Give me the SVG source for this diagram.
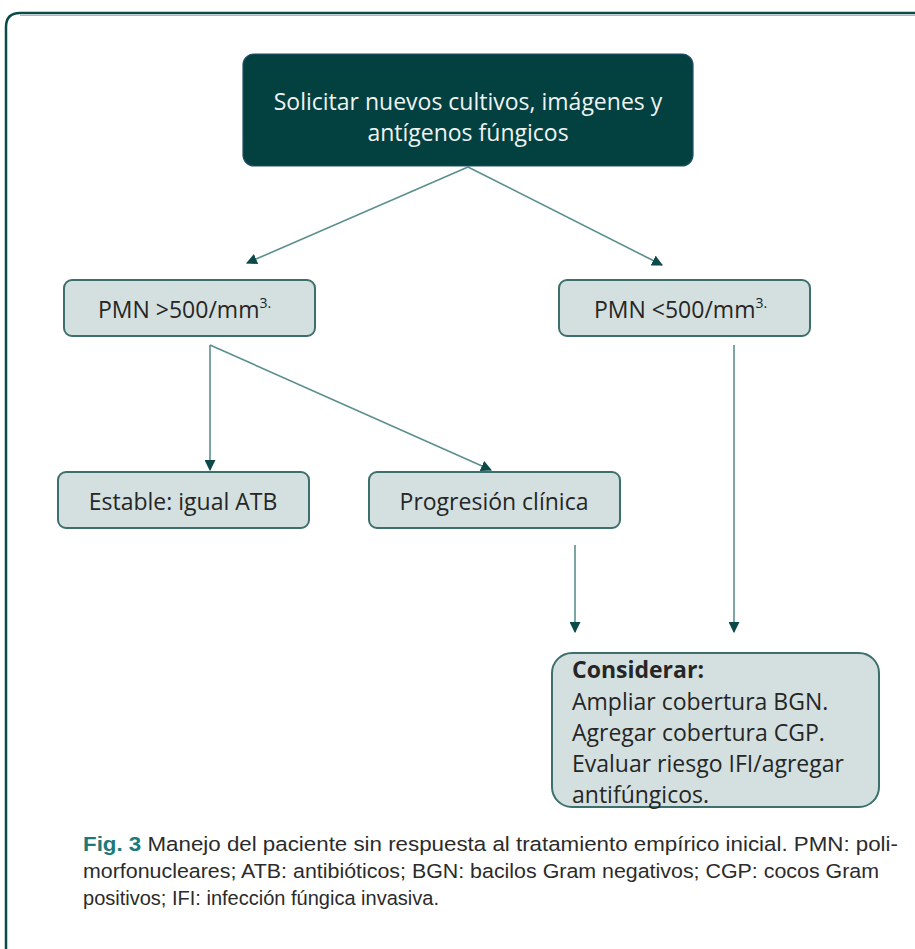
<svg xmlns="http://www.w3.org/2000/svg" width="915" height="949" viewBox="0 0 915 949">
<defs>
<style>
.box{fill:#d3e0df;stroke:#3d6f6c;stroke-width:2}
.lbl{font-family:"Open Sans","Liberation Sans",sans-serif;font-size:23px;fill:#262626}
.conn{stroke:#5b8f8c;stroke-width:1.6;fill:none;marker-end:url(#ah)}
.cap{font-family:"Liberation Sans",Arial,sans-serif;font-size:20.5px;fill:#2b2b2b}
</style>
<marker id="ah" viewBox="0 0 10 10" refX="9" refY="5" markerWidth="11" markerHeight="11" markerUnits="userSpaceOnUse" orient="auto">
<path d="M0,0 L10,5 L0,10 Z" fill="#0b4a48"/>
</marker>
</defs>
<rect width="915" height="949" fill="#ffffff"/>
<g id="frame">
<path d="M6,949 V27 Q6,13 20,13 H915" fill="none" stroke="#0a4a48" stroke-width="2.5"/>
<line x1="20" y1="15.5" x2="915" y2="15.5" stroke="#9fbdbb" stroke-width="1"/>
</g>
<g id="connectors">
<line class="conn" x1="468" y1="167" x2="247" y2="263"/>
<line class="conn" x1="468" y1="167" x2="662" y2="265"/>
<line class="conn" x1="210" y1="345" x2="210" y2="470"/>
<line class="conn" x1="210" y1="345" x2="491" y2="470"/>
<line class="conn" x1="734" y1="345" x2="734" y2="632"/>
<line class="conn" x1="575" y1="545" x2="575" y2="632"/>
</g>
<g id="n-solicitar">
<rect x="243" y="54" width="450" height="112" rx="11" fill="#034040" stroke="#234e6a" stroke-width="1.2"/>
<text class="lbl" x="468" y="110" text-anchor="middle" style="fill:#eef3f2">Solicitar nuevos cultivos, imágenes y</text>
<text class="lbl" x="468" y="141" text-anchor="middle" style="fill:#eef3f2">antígenos fúngicos</text>
</g>
<g id="n-pmn-high">
<rect class="box" x="64" y="280" width="251" height="56" rx="8"/>
<text class="lbl" x="98" y="318">PMN &gt;500/mm<tspan font-size="14" dy="-10">3.</tspan></text>
</g>
<g id="n-pmn-low">
<rect class="box" x="559" y="280" width="251" height="56" rx="8"/>
<text class="lbl" x="594" y="318">PMN &lt;500/mm<tspan font-size="14" dy="-10">3.</tspan></text>
</g>
<g id="n-estable">
<rect class="box" x="58" y="472" width="251" height="56" rx="8"/>
<text class="lbl" x="183" y="510" text-anchor="middle">Estable: igual ATB</text>
</g>
<g id="n-progresion">
<rect class="box" x="369" y="472" width="251" height="56" rx="8"/>
<text class="lbl" x="494" y="510" text-anchor="middle">Progresión clínica</text>
</g>
<g id="n-considerar">
<rect class="box" x="552" y="653" width="327" height="154" rx="20"/>
<text class="lbl" x="572" y="678" style="font-weight:bold">Considerar:</text>
<text class="lbl" x="572" y="710">Ampliar cobertura BGN.</text>
<text class="lbl" x="572" y="741">Agregar cobertura CGP.</text>
<text class="lbl" x="572" y="772">Evaluar riesgo IFI/agregar</text>
<text class="lbl" x="572" y="803">antifúngicos.</text>
</g>
<g id="caption">
<text class="cap" x="83" y="851" textLength="815" lengthAdjust="spacingAndGlyphs"><tspan font-weight="bold" fill="#1d7a78">Fig. 3</tspan> Manejo del paciente sin respuesta al tratamiento empírico inicial. PMN: poli-</text>
<text class="cap" x="83" y="878" textLength="796" lengthAdjust="spacingAndGlyphs">morfonucleares; ATB: antibióticos; BGN: bacilos Gram negativos; CGP: cocos Gram</text>
<text class="cap" x="83" y="905" textLength="356" lengthAdjust="spacingAndGlyphs">positivos; IFI: infección fúngica invasiva.</text>
</g>
</svg>
